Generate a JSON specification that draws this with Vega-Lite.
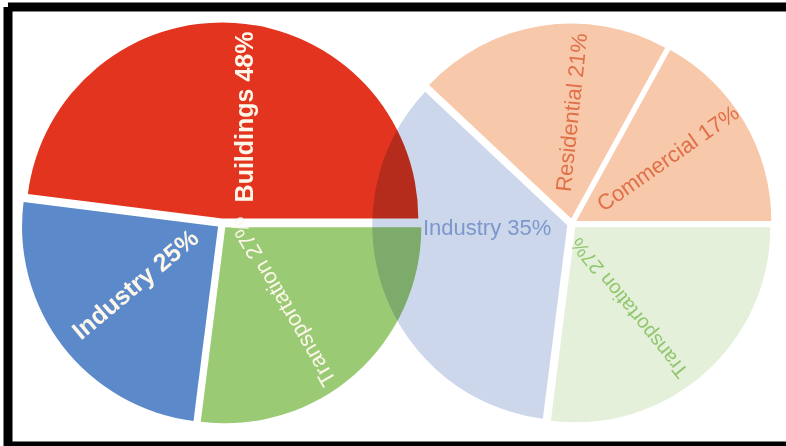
{
  "$schema": "https://vega.github.io/schema/vega-lite/v6.json",
  "width": 778,
  "height": 439,
  "autosize": {"type": "none"},
  "padding": {"left": 8, "top": 7, "right": 0, "bottom": 0},
  "background": "white",
  "config": {"view": {"stroke": "black", "strokeWidth": 9, "strokeDash": [778, 439, 1217, 0]}},
  "data": {
    "values": [
      {"pie": "Left", "sector": "Transportation", "pct": 27, "ord": 1, "label": "Transportation 27%"},
      {"pie": "Left", "sector": "Industry", "pct": 25, "ord": 2, "label": "Industry 25%"},
      {"pie": "Left", "sector": "Buildings", "pct": 48, "ord": 3, "label": "Buildings 48%"},
      {"pie": "Right", "sector": "Transportation", "pct": 27, "ord": 1, "label": "Transportation 27%"},
      {"pie": "Right", "sector": "Industry", "pct": 35, "ord": 2, "label": "Industry 35%"},
      {"pie": "Right", "sector": "Residential", "pct": 21, "ord": 3, "label": "Residential 21%"},
      {"pie": "Right", "sector": "Commercial", "pct": 17, "ord": 4, "label": "Commercial 17%"}
    ]
  },
  "encoding": {
    "x": {"field": "pie", "type": "nominal", "axis": null,
          "scale": {"type": "point", "domain": ["Left", "Right"], "range": [214, 564], "padding": 0}},
    "theta": {"field": "pct", "type": "quantitative", "stack": true,
              "scale": {"domain": [0, 100], "range": [1.5708, 7.854]}},
    "order": {"field": "ord", "type": "quantitative"}
  },
  "layer": [
    {
      "transform": [{"filter": "datum.pie == 'Left'"}],
      "mark": {"type": "arc", "outerRadius": 196,
               "xOffset": {"expr": "5*sin(PI/2 + PI*(datum.pct_start + datum.pct_end)/100)"},
               "yOffset": {"expr": "-3 - 5*cos(PI/2 + PI*(datum.pct_start + datum.pct_end)/100)"}},
      "encoding": {
        "color": {"field": "sector", "type": "nominal", "legend": null,
                  "scale": {"domain": ["Buildings", "Industry", "Transportation"], "range": ["#e2341e", "#5b89c9", "#9acb74"]}}
      }
    },
    {
      "transform": [{"filter": "datum.pie == 'Left'"}],
      "mark": {"type": "text", "radius": 109, "thetaOffset": 0.15, "angle": 270, "yOffset": -3,
               "font": "Liberation Sans", "fontSize": 25, "fontWeight": "bold", "fill": "#fdf6ea",
               "align": "center", "baseline": "middle"},
      "encoding": {
        "detail": {"field": "sector"},
        "text": {"condition": {"test": "datum.sector == 'Buildings'", "field": "label"}, "value": ""}
      }
    },
    {
      "transform": [{"filter": "datum.pie == 'Left'"}],
      "mark": {"type": "text", "radius": 106, "thetaOffset": 0.044, "angle": 320, "yOffset": -3,
               "font": "Liberation Sans", "fontSize": 25, "fontWeight": "bold", "fill": "#fdf6ea",
               "align": "center", "baseline": "middle"},
      "encoding": {
        "detail": {"field": "sector"},
        "text": {"condition": {"test": "datum.sector == 'Industry'", "field": "label"}, "value": ""}
      }
    },
    {
      "transform": [{"filter": "datum.pie == 'Left'"}],
      "mark": {"type": "text", "radius": 99, "thetaOffset": 0.06, "angle": 240, "yOffset": -3,
               "font": "Liberation Sans", "fontSize": 22, "fill": "#fdf6ea",
               "align": "center", "baseline": "middle"},
      "encoding": {
        "detail": {"field": "sector"},
        "text": {"condition": {"test": "datum.sector == 'Transportation'", "field": "label"}, "value": ""}
      }
    },
    {
      "transform": [{"filter": "datum.pie == 'Right'"}],
      "mark": {"type": "arc", "outerRadius": 195, "blend": "multiply",
               "xOffset": {"expr": "5*sin(PI/2 + PI*(datum.pct_start + datum.pct_end)/100)"},
               "yOffset": {"expr": "-3 - 5*cos(PI/2 + PI*(datum.pct_start + datum.pct_end)/100)"}},
      "encoding": {
        "color": {"field": "sector", "type": "nominal", "legend": null,
                  "scale": {"domain": ["Industry", "Residential", "Commercial", "Transportation"], "range": ["#cdd7ec", "#f7c8aa", "#f7c8aa", "#e4f0da"]}}
      }
    },
    {
      "transform": [{"filter": "datum.pie == 'Right'"}],
      "mark": {"type": "text", "radius": 85, "thetaOffset": 0.293, "angle": 0, "yOffset": -3,
               "font": "Liberation Sans", "fontSize": 22, "fill": "#7b97cb",
               "align": "center", "baseline": "middle"},
      "encoding": {
        "detail": {"field": "sector"},
        "text": {"condition": {"test": "datum.sector == 'Industry'", "field": "label"}, "value": ""}
      }
    },
    {
      "transform": [{"filter": "datum.pie == 'Right'"}],
      "mark": {"type": "text", "radius": 111, "thetaOffset": 0.157, "angle": 276, "yOffset": -3,
               "font": "Liberation Sans", "fontSize": 22, "fill": "#e07048",
               "align": "center", "baseline": "middle"},
      "encoding": {
        "detail": {"field": "sector"},
        "text": {"condition": {"test": "datum.sector == 'Residential'", "field": "label"}, "value": ""}
      }
    },
    {
      "transform": [{"filter": "datum.pie == 'Right'"}],
      "mark": {"type": "text", "radius": 116, "thetaOffset": -0.06, "angle": 325, "yOffset": -3,
               "font": "Liberation Sans", "fontSize": 22, "fill": "#e07048",
               "align": "center", "baseline": "middle"},
      "encoding": {
        "detail": {"field": "sector"},
        "text": {"condition": {"test": "datum.sector == 'Commercial'", "field": "label"}, "value": ""}
      }
    },
    {
      "transform": [{"filter": "datum.pie == 'Right'"}],
      "mark": {"type": "text", "radius": 102, "thetaOffset": 0.12, "angle": 231, "yOffset": -3,
               "font": "Liberation Sans", "fontSize": 20, "fill": "#92c66e",
               "align": "center", "baseline": "middle"},
      "encoding": {
        "detail": {"field": "sector"},
        "text": {"condition": {"test": "datum.sector == 'Transportation'", "field": "label"}, "value": ""}
      }
    }
  ],
  "resolve": {"scale": {"color": "independent"}}
}
